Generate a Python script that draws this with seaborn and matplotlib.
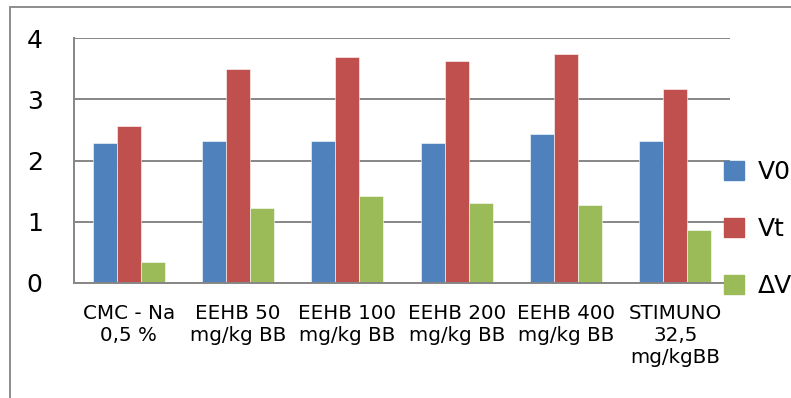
import matplotlib
matplotlib.use('Agg')
import matplotlib.pyplot as plt
import matplotlib.patches as mpatches
import pandas as pd
import seaborn as sns

# data
groups = ['CMC - Na\n0,5 %', 'EEHB 50\nmg/kg BB', 'EEHB 100\nmg/kg BB',
          'EEHB 200\nmg/kg BB', 'EEHB 400\nmg/kg BB', 'STIMUNO\n32,5\nmg/kgBB']
series = ['V0', 'Vt', 'ΔV']
v0 = [2.28, 2.32, 2.32, 2.28, 2.44, 2.32]
vt = [2.56, 3.49, 3.69, 3.62, 3.74, 3.17]
dv = [0.34, 1.23, 1.42, 1.31, 1.27, 0.87]
colors = ['#4F81BD', '#C0504D', '#9BBB59']

df = pd.DataFrame({
    'group': groups * 3,
    'series': [s for s in series for _ in groups],
    'value': v0 + vt + dv,
})

sns.set_style('white')
plt.rcParams['font.family'] = ['DejaVu Sans']
plt.rcParams['text.color'] = 'black'

fig = plt.figure(figsize=(7.91, 3.98), dpi=100)
ax = fig.add_axes([74 / 791, 1 - 283 / 398, (730 - 74) / 791, (283 - 38) / 398])

sns.barplot(data=df, x='group', y='value', hue='series', palette=colors,
            width=0.66, saturation=1, ax=ax, legend=False,
            edgecolor='white', linewidth=0.4)

grid_c = '#868686'
ax.set_ylim(0, 4)
ax.set_xlim(-0.5, 5.5)
ax.set_yticks([0, 1, 2, 3, 4])
ax.yaxis.grid(True, color=grid_c, linewidth=1.4)
ax.set_axisbelow(True)
for s in ['top', 'right']:
    ax.spines[s].set_visible(False)
for s in ['left', 'bottom']:
    ax.spines[s].set_color(grid_c)
    ax.spines[s].set_linewidth(1.4)
ax.tick_params(axis='y', length=6.5, width=1.4, color=grid_c, pad=16,
               labelsize=18, labelcolor='black')
ax.tick_params(axis='x', which='major', length=0, pad=15, labelsize=14.3,
               labelcolor='black')
ax.set_xticks([i - 0.5 for i in range(7)], minor=True)
ax.tick_params(axis='x', which='minor', length=5, width=1.4, color=grid_c)
for lab in ax.get_xticklabels():
    lab.set_linespacing(1.2)
ax.set_xlabel('')
ax.set_ylabel('')

# legend on the right, partly cut off like the original
handles = [mpatches.Patch(color=c, label=s) for c, s in zip(colors, series)]
fig.legend(handles=handles, loc='upper left', bbox_to_anchor=(724 / 791, 1 - 160 / 398),
           frameon=False, fontsize=18, handlelength=0.8, handleheight=0.8,
           handletextpad=0.55, labelspacing=1.32, borderpad=0, borderaxespad=0)

# outer chart frame (cropped on the right and bottom)
fig.patches.append(mpatches.Rectangle((10 / 791, -0.2), 1.2, 1 - 7 / 398 + 0.2,
                                      transform=fig.transFigure, fill=False,
                                      edgecolor='#8c8c8c', linewidth=1.4))

fig.savefig('out.png', dpi=100)
